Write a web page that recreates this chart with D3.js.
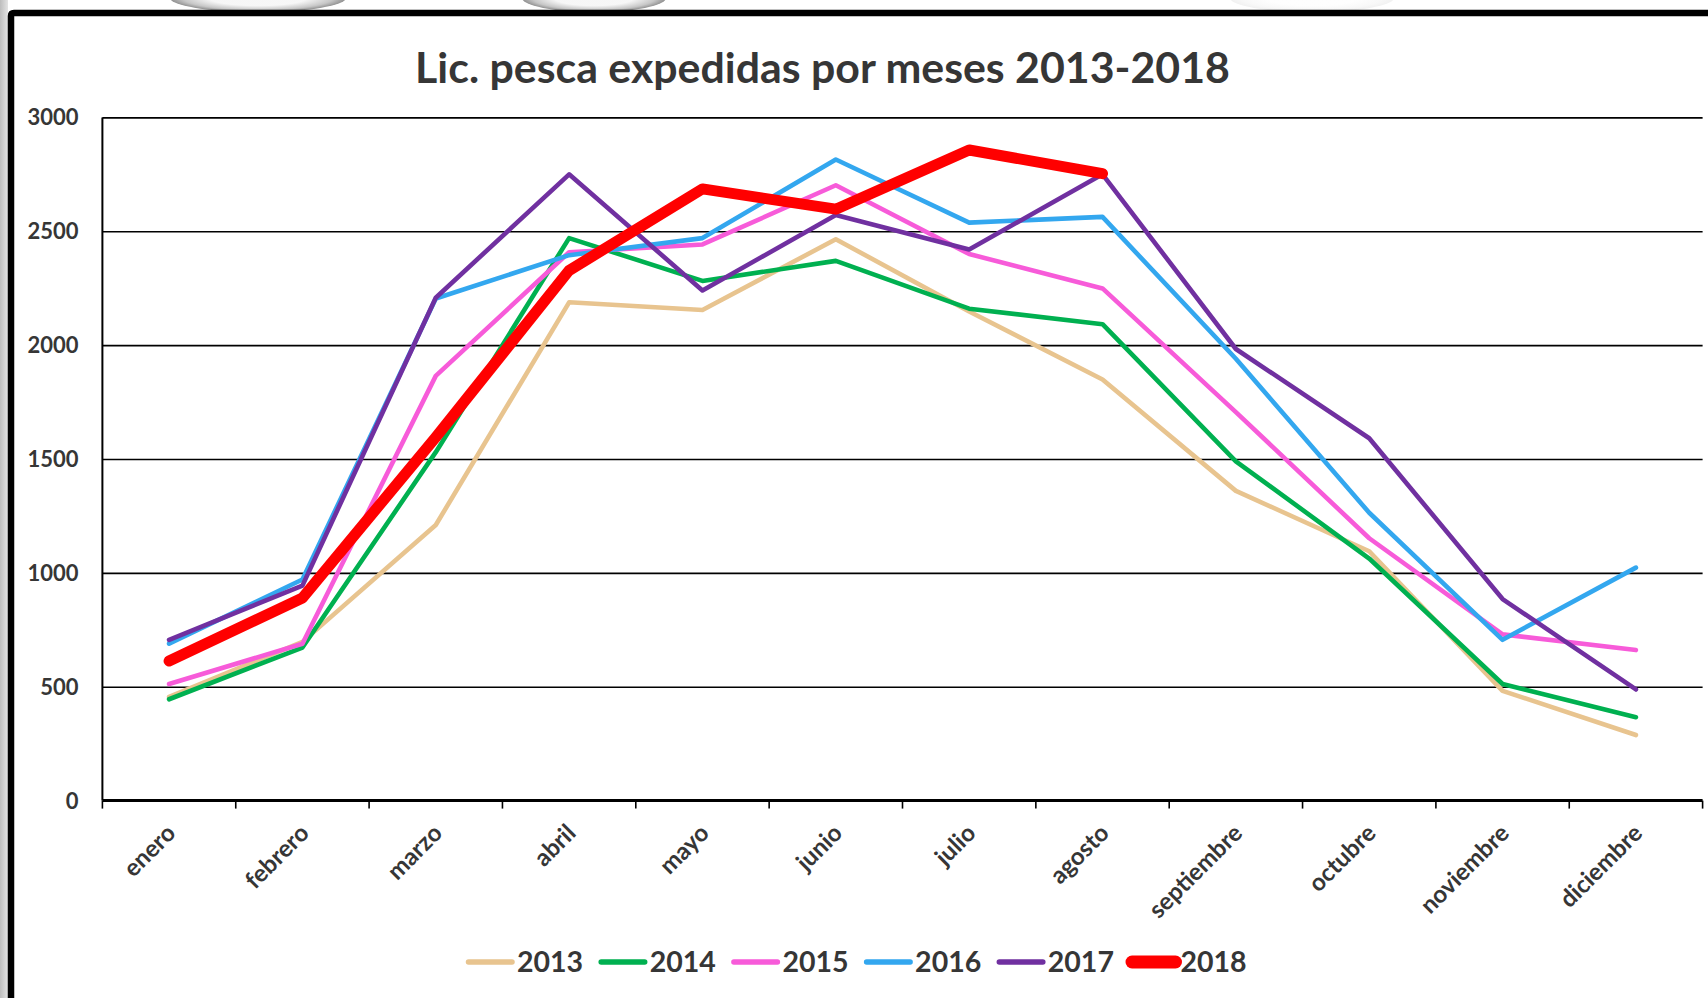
<!DOCTYPE html>
<html>
<head>
<meta charset="utf-8">
<title>Lic. pesca expedidas por meses 2013-2018</title>
<script src="https://cdn.jsdelivr.net/npm/d3@7"></script>
<style>
body, html {
  width: 100%;
  height: 100%;
  margin: 0;
  background: #fff;
  overflow: hidden;
}
text {
  font-family: Lato, "Open Sans", sans-serif;
  font-weight: bold;
  fill: #363636;
}
.grid line { stroke: #000; stroke-width: 1.6px; }
.grid .domain { display: none; }
.serie { fill: none; stroke-linecap: round; stroke-linejoin: round; }
</style>
</head>
<body>
<svg id="chart" width="1708" height="998"></svg>
<script>
// datos
var meses = ["enero", "febrero", "marzo", "abril", "mayo", "junio", "julio",
             "agosto", "septiembre", "octubre", "noviembre", "diciembre"];
var anios = ["2013", "2014", "2015", "2016", "2017", "2018"];
var v2013 = [455, 697, 1210, 2188, 2154, 2465, 2148, 1849, 1360, 1095, 482, 288];
var v2014 = [445, 672, 1530, 2470, 2282, 2370, 2160, 2092, 1490, 1063, 512, 366];
var v2015 = [512, 689, 1865, 2408, 2442, 2702, 2400, 2249, 1706, 1152, 730, 661];
var v2016 = [689, 971, 2205, 2395, 2470, 2815, 2538, 2563, 1940, 1264, 706, 1023];
var v2017 = [706, 944, 2208, 2750, 2240, 2571, 2420, 2750, 1983, 1591, 885, 488];
var v2018 = [613, 890, 1596, 2328, 2686, 2597, 2857, 2753];
var yTicks = [0, 500, 1000, 1500, 2000, 2500, 3000];
var colores = ["#e8c48f", "#00b050", "#f75bd9", "#33a7ef", "#7030a0", "#ff0000"];
var grosor = [4.6, 4.6, 4.6, 4.6, 4.6, 11];

var series = [v2013, v2014, v2015, v2016, v2017, v2018];

var svg = d3.select("#chart");

// fondo: franja gris a la izquierda y restos de imagen arriba
var defs = svg.append("defs");
var grad = defs.append("linearGradient").attr("id", "franja").attr("x1", 0).attr("x2", 1);
grad.append("stop").attr("offset", 0).attr("stop-color", "#bdbdbd");
grad.append("stop").attr("offset", 1).attr("stop-color", "#e4e4e4");
var grad2 = defs.append("radialGradient").attr("id", "bola");
grad2.append("stop").attr("offset", 0.55).attr("stop-color", "#f6f6f6");
grad2.append("stop").attr("offset", 0.85).attr("stop-color", "#c4c4c4");
grad2.append("stop").attr("offset", 1).attr("stop-color", "#8c8c8c");

svg.append("rect").attr("x", 0).attr("y", 0).attr("width", 8).attr("height", 998)
    .attr("fill", "url(#franja)");
svg.append("g").selectAll("ellipse")
    .data([[258, 88], [594, 72], [1312, 82]])
  .enter().append("ellipse")
    .attr("cx", function(d) { return d[0]; })
    .attr("cy", -2)
    .attr("rx", function(d) { return d[1]; })
    .attr("ry", 14)
    .attr("fill", "url(#bola)")
    .attr("opacity", function(d, i) { return i == 2 ? 0.12 : 0.95; });

// marco negro grueso
svg.append("path")
    .attr("d", "M11,1000 L11,16 Q11,13 14,13 L1710,13")
    .attr("fill", "none")
    .attr("stroke", "#000")
    .attr("stroke-width", 6.5);

var mLeft = 102.4, mRight = 1702.6, mTop = 117.4, mBottom = 800.6;

var x = d3.scaleBand().domain(meses).range([mLeft, mRight]).paddingInner(0).paddingOuter(0);
var y = d3.scaleLinear().domain([0, 3000]).range([mBottom, mTop]);
var cx = function(i) { return x(meses[i]) + x.bandwidth() / 2; };

// lineas de division
svg.append("g")
    .attr("class", "grid")
    .attr("transform", "translate(" + mLeft + ",0)")
    .call(d3.axisLeft(y).tickValues(yTicks.slice(1)).tickSize(-(mRight - mLeft)).tickFormat(""));

// eje vertical
svg.append("line")
    .attr("x1", mLeft).attr("x2", mLeft).attr("y1", mTop).attr("y2", mBottom)
    .attr("stroke", "#000").attr("stroke-width", 2);

// etiquetas del eje y
svg.append("g").selectAll("text")
    .data(yTicks)
  .enter().append("text")
    .attr("x", 78.5)
    .attr("y", function(d) { return y(d); })
    .attr("dy", "0.36em")
    .attr("text-anchor", "end")
    .style("font-size", "22px")
    .text(function(d) { return d; });

// eje x con marcas en los limites de categoria
var limites = meses.map(function(m) { return x(m); }).concat([x.range()[1]]);
svg.append("line")
    .attr("x1", mLeft).attr("x2", mRight).attr("y1", mBottom).attr("y2", mBottom)
    .attr("stroke", "#000").attr("stroke-width", 3);
svg.append("g").selectAll("line")
    .data(limites)
  .enter().append("line")
    .attr("x1", function(d) { return d; })
    .attr("x2", function(d) { return d; })
    .attr("y1", mBottom)
    .attr("y2", mBottom + 8)
    .attr("stroke", "#000")
    .attr("stroke-width", 1.6);

svg.append("g").selectAll("text")
    .data(meses)
  .enter().append("text")
    .attr("text-anchor", "end")
    .attr("transform", function(d, i) {
      return "translate(" + (cx(i) + 8) + "," + (mBottom + 34) + ") rotate(-45)";
    })
    .style("font-size", "24px")
    .text(function(d) { return d; });

// series
var linea = d3.line()
    .x(function(d, i) { return cx(i); })
    .y(function(d) { return y(d); });

svg.append("g").selectAll("path")
    .data(series)
  .enter().append("path")
    .attr("class", "serie")
    .attr("d", linea)
    .attr("stroke", function(d, i) { return colores[i]; })
    .attr("stroke-width", function(d, i) { return grosor[i]; });

// titulo
var titulo = svg.append("text")
    .attr("x", 822.5)
    .attr("y", 83)
    .attr("text-anchor", "middle")
    .style("font-size", "40px")
    .text("Lic. pesca expedidas por meses 2013-2018");
var largo = titulo.node().getComputedTextLength();
titulo.style("font-size", (40 * 815 / largo) + "px");

// leyenda
var leyenda = svg.append("g").selectAll("g")
    .data(anios)
  .enter().append("g")
    .attr("transform", function(d, i) { return "translate(" + (466 + i * 132.7) + ",962)"; });
leyenda.append("line")
    .attr("x1", 2.5).attr("x2", 46)
    .attr("y1", 0).attr("y2", 0)
    .attr("stroke", function(d, i) { return colores[i]; })
    .attr("stroke-width", function(d, i) { return i == 5 ? 13 : 5.5; })
    .attr("stroke-linecap", "round");
leyenda.append("text")
    .attr("x", 51)
    .attr("y", 0)
    .attr("dy", "0.36em")
    .style("font-size", "28.5px")
    .text(function(d) { return d; });
</script>
</body>
</html>
